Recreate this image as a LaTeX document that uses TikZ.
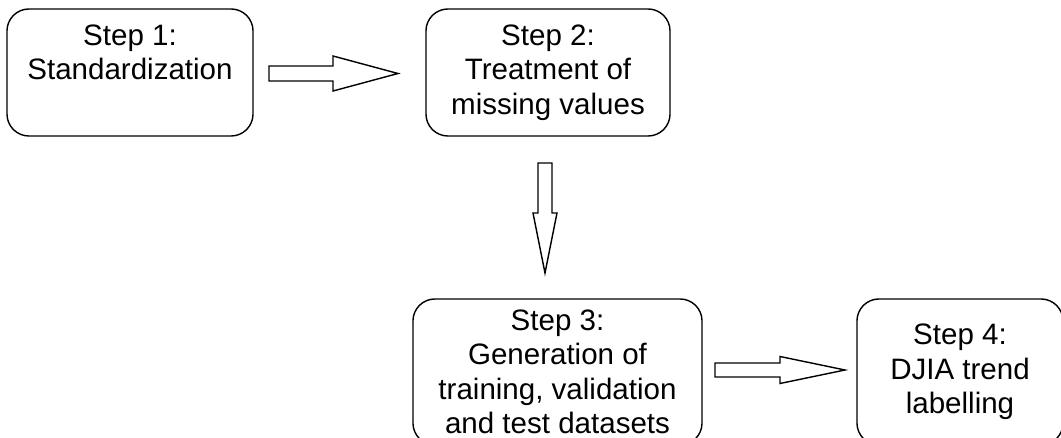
\documentclass[tikz,border=0pt]{standalone}
\usepackage{fontspec}
\setmainfont{Liberation Sans}

\begin{document}
\begin{tikzpicture}[x=0.025cm, y=-0.025cm, line width=1pt]
   \useasboundingbox (0,0) rectangle (1061,438);
   \begin{scope}[every node/.style={draw=black,rounded corners=0.55cm,inner sep=0pt,align=center,font=\fontsize{21}{24.5}\selectfont}]
    \node[minimum width=6.15cm, minimum height=3.175cm] (step1) at (130,72.5) {Step 1:\\Standardization\\\phantom{g}};
    \node[minimum width=6.1cm, minimum height=3.175cm] (step2) at (548,72.5) {Step 2:\\Treatment of\\missing values};
    \node[minimum width=7.225cm, minimum height=3.65cm] (step3) at (557.5,372) {Step 3:\\Generation of\\training, validation\\and test datasets};
    \node[minimum width=5.15cm, minimum height=3.65cm] (step4) at (960,372) {Step 4:\\DJIA trend\\labelling};
   \end{scope}
   \coordinate (a12) at (269,73.5);
   \coordinate (b12) at (398,73.5);
   \coordinate (a23) at (545,163);
   \coordinate (b23) at (545,273);
   \coordinate (a34) at (715,370);
   \coordinate (b34) at (845,370);
   \begin{scope}[line join=miter]
    \draw (a12) ++(0,-7.5) -- ++(64,0) -- ++(0,-10) -- (b12) -- ++(-65,17.5) -- ++(0,-10) -- ++(-64,0) -- cycle;
    \draw (a23) ++(-7,0) -- ++(0,50) -- ++(-5,0) -- (b23) -- ++(12,-60) -- ++(-5,0) -- ++(0,-50) -- cycle;
    \draw (a34) ++(0,-7) -- ++(65,0) -- ++(0,-6.5) -- (b34) -- ++(-65,13.5) -- ++(0,-6.5) -- ++(-65,0) -- cycle;
   \end{scope}
\end{tikzpicture}
\end{document}
